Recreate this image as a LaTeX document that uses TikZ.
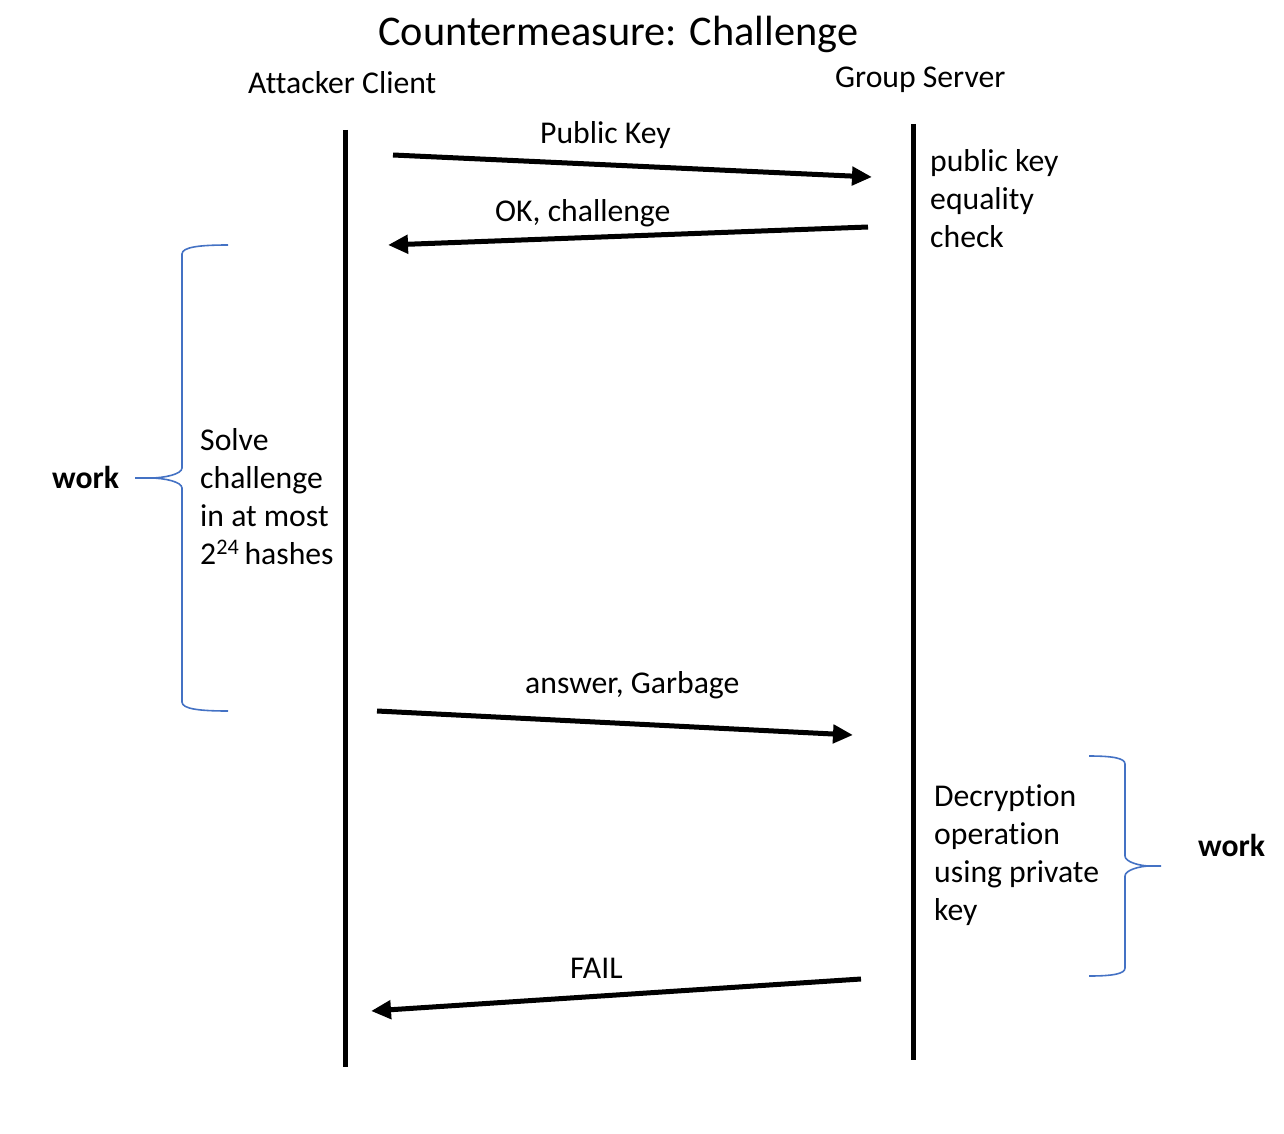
\documentclass[tikz,border=0pt]{standalone}
\usepackage{fontspec}
\setmainfont[Ligatures={NoCommon}]{Carlito}
\usetikzlibrary{arrows.meta}
\definecolor{braceblue}{HTML}{4472C4}
\tikzset{
  lifeline/.style={line width=5pt},
  msg/.style={line width=5pt,-{Triangle[length=20pt,width=18pt]}},
  lbl/.style={inner sep=0pt,anchor=base west,font=\fontsize{31.7}{38}\selectfont},
  multilbl/.style={inner sep=0pt,anchor=base west,align=left,font=\fontsize{31.7}{38}\selectfont},
  ttl/.style={inner sep=0pt,anchor=base west,font=\fontsize{42.3}{50}\selectfont},
  bracepath/.style={draw=braceblue,line width=1.6pt}
}
\begin{document}
\begin{tikzpicture}[x=1pt,y=-1pt]
\useasboundingbox (0,0) rectangle (1284,1134);
% title and headings
\node[ttl] (title) at (378,46) {Countermeasure: Challenge};
\node[lbl] (attacker) at (248,94) {Attacker Client};
\node[lbl] (server) at (835,88) {Group Server};
% lifelines
\coordinate (lltop) at (345,130);
\coordinate (llbot) at (345,1067);
\coordinate (rltop) at (913,124);
\coordinate (rlbot) at (913,1060);
\draw[lifeline] (lltop) -- (llbot);
\draw[lifeline] (rltop) -- (rlbot);
% messages
\coordinate (m1s) at (393,155);
\coordinate (m1e) at (872,177);
\coordinate (m2s) at (868,227);
\coordinate (m2e) at (388,245);
\coordinate (m3s) at (377,711);
\coordinate (m3e) at (853,735);
\coordinate (m4s) at (861,979);
\coordinate (m4e) at (371,1011);
\draw[msg] (m1s) -- (m1e);
\draw[msg] (m2s) -- (m2e);
\draw[msg] (m3s) -- (m3e);
\draw[msg] (m4s) -- (m4e);
\node[lbl] (l1) at (540,144) {Public Key};
\node[lbl] (l2) at (495,221) {OK, challenge};
\node[lbl] (l3) at (525,693) {answer, Garbage};
\node[lbl] (l4) at (570,978) {FAIL};
% server note (base anchor = last line baseline)
\node[multilbl] (pkcheck) at (930,247) {public key\\equality\\check};
% left brace
\draw[bracepath] (228,245) .. controls (200,245) and (182,247) .. (182,254)
  -- (182,468) .. controls (182,474) and (165,478) .. (150,478) -- (135,478);
\draw[bracepath] (150,478) .. controls (165,478) and (182,482) .. (182,488)
  -- (182,702) .. controls (182,709) and (200,711) .. (228,711);
\node[lbl,font=\fontsize{31.7}{38}\selectfont\bfseries] (work1) at (52,488) {work};
\node[multilbl] (solve) at (200,564) {Solve\\challenge\\in at most\\2\textsuperscript{24}\,hashes};
% right brace
\draw[bracepath] (1089,756) .. controls (1112,756) and (1125,758) .. (1125,764)
  -- (1125,856) .. controls (1125,862) and (1140,866) .. (1150,866) -- (1161,866);
\draw[bracepath] (1150,866) .. controls (1140,866) and (1125,870) .. (1125,876)
  -- (1125,968) .. controls (1125,974) and (1112,976) .. (1089,976);
\node[lbl,font=\fontsize{31.7}{38}\selectfont\bfseries] (work2) at (1198,856) {work};
\node[multilbl] (decrypt) at (934,920) {Decryption\\operation\\using private\\key};
\end{tikzpicture}
\end{document}
